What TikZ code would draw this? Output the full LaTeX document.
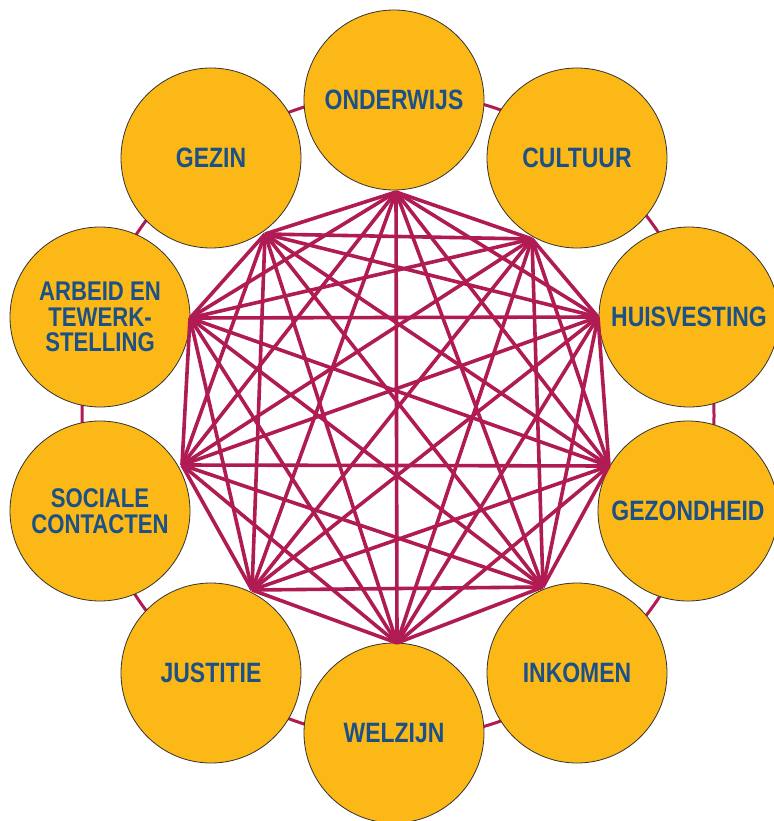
\documentclass[tikz,border=0pt]{standalone}
\usepackage{fontspec}
\newfontfamily\labfont{Liberation Sans}[FakeStretch=0.82]
\definecolor{discfill}{HTML}{FBB817}
\definecolor{webcol}{HTML}{AF1B52}
\definecolor{txtcol}{HTML}{1C5188}
\begin{document}
\begin{tikzpicture}[x=1pt,y=-1pt,
  disc/.style={circle, draw=black!80, line width=0.8pt, fill=discfill,
    minimum size=180pt, inner sep=0pt, text=txtcol, align=center,
    font=\labfont\bfseries\fontsize{28}{26}\selectfont},
  smalldisc/.style={disc, font=\labfont\bfseries\fontsize{27}{25.7}\selectfont},
  webline/.style={draw=webcol, line width=3.6pt},
  ringline/.style={draw=webcol, line width=3pt}]
\useasboundingbox (0,0) rectangle (773,821);
\fill[white] (0,0) rectangle (773,821);
\draw[ringline] (398,415.5) ellipse [x radius=316, y radius=323];
\node[disc] (n1) at (394,100) {ONDERWIJS};
\node[disc] (n2) at (577,158) {CULTUUR};
\node[disc] (n3) at (689,317) {HUISVESTING};
\node[disc] (n4) at (688,511) {GEZONDHEID};
\node[disc] (n5) at (577,673) {INKOMEN};
\node[disc] (n6) at (394,733) {WELZIJN};
\node[disc] (n7) at (211,673) {JUSTITIE};
\node[smalldisc] (n8) at (100,511) {SOCIALE\\CONTACTEN};
\node[smalldisc] (n9) at (100,317) {ARBEID EN\\TEWERK-\\STELLING};
\node[disc] (n10) at (211,158) {GEZIN};
\coordinate (v1) at (396,192);
\coordinate (v2) at (532,239);
\coordinate (v3) at (598,317);
\coordinate (v4) at (609,466);
\coordinate (v5) at (543,587);
\coordinate (v6) at (397,643);
\coordinate (v7) at (252,590);
\coordinate (v8) at (182,465);
\coordinate (v9) at (190,318);
\coordinate (v10) at (265,234);
\foreach \i [evaluate=\i as \k using int(\i+1)] in {1,...,9} {
  \foreach \j in {\k,...,10} {
    \draw[webline] (v\i) -- (v\j);
  }
}
\end{tikzpicture}
\end{document}
